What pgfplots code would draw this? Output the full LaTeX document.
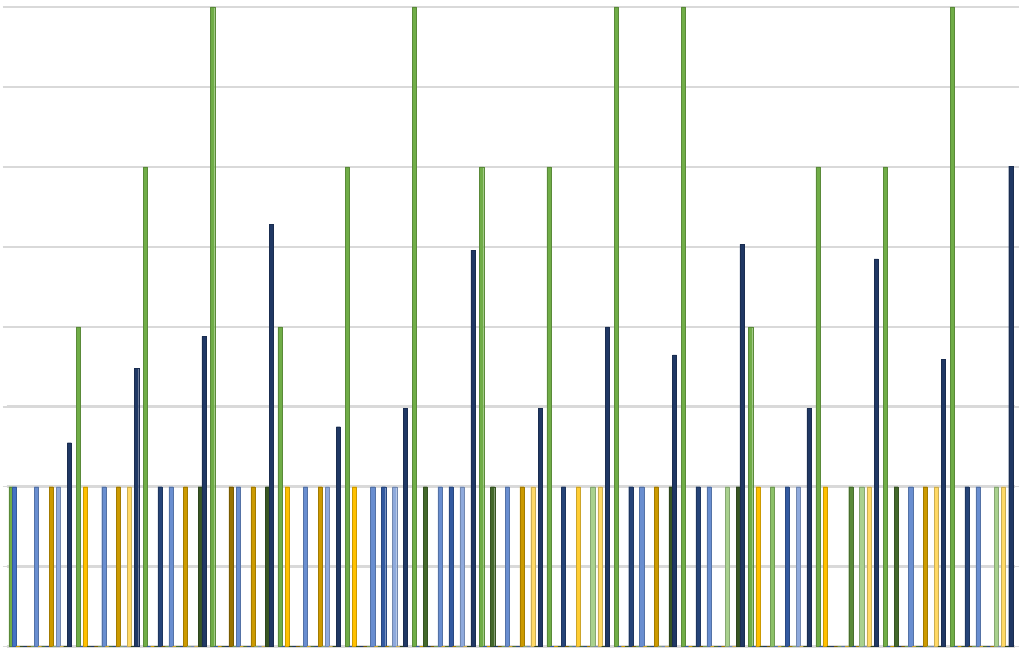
\documentclass[border=0pt]{standalone}
\usepackage{pgfplots}
\usepackage{pgfplotstable}
\pgfplotsset{compat=1.18}

% 17 series, Excel-style palette (accents 6,5,4 and their shades)
\definecolor{c1}{HTML}{70AD47}
\definecolor{c2}{HTML}{4472C4}
\definecolor{c3}{HTML}{FFC000}
\definecolor{c4}{HTML}{43682B}
\definecolor{c5}{HTML}{264478}
\definecolor{c6}{HTML}{997300}
\definecolor{c7}{HTML}{8CC168}
\definecolor{c8}{HTML}{698ED0}
\definecolor{c9}{HTML}{FFCD33}
\definecolor{c10}{HTML}{5A8A39}
\definecolor{c11}{HTML}{335AA0}
\definecolor{c12}{HTML}{CC9A00}
\definecolor{c13}{HTML}{A9D18E}
\definecolor{c14}{HTML}{8FAADC}
\definecolor{c15}{HTML}{FFD966}
\definecolor{c16}{HTML}{385623}
\definecolor{c17}{HTML}{203864}
\definecolor{gridgray}{HTML}{D9D9D9}

\pgfplotstableread{
cat s1 s2 s3 s4 s5 s6 s7 s8 s9 s10 s11 s12 s13 s14 s15 s16 s17
0  2 2 0 0 0 0 0 2 0 0 0 2 0 2 0 0 2.55
1  4 0 2 0 0 0 0 2 0 0 0 2 0 0 2 0 3.48
2  6 0 0 0 2 0 0 2 0 0 0 2 0 0 0 2 3.88
3  8 0 0 0 0 2 0 2 0 0 0 2 0 0 0 2 5.28
4  4 0 2 0 0 0 0 2 0 0 0 2 0 2 0 0 2.75
5  6 0 2 0 0 0 0 2 0 0 2 0 0 2 0 0 2.98
6  8 0 0 2 0 0 0 2 0 0 2 0 0 2 0 0 4.96
7  6 0 0 2 0 0 0 2 0 0 0 2 0 0 2 0 2.98
8  6 0 0 0 2 0 0 0 2 0 0 0 2 0 2 0 4.00
9  8 0 0 0 2 0 0 2 0 0 0 2 0 0 0 2 3.65
10 8 0 0 0 2 0 0 2 0 0 0 0 2 0 0 2 5.03
11 4 0 2 0 0 0 2 0 0 0 2 0 0 2 0 0 2.98
12 6 0 2 0 0 0 0 0 0 2 0 0 2 0 2 0 4.85
13 6 0 0 2 0 0 0 2 0 0 0 2 0 0 2 0 3.59
14 8 0 0 0 2 0 0 2 0 0 0 0 2 0 2 0 6.01
}\datatable

\begin{document}
\begin{tikzpicture}
  \begin{axis}[
      scale only axis,
      width=757pt, height=480pt,
      xmin=-0.5, xmax=14.5,
      ymin=0, ymax=8,
      % bars a bit wider than their pitch (2.74pt), as in the reference
      ybar=-0.36pt, bar width=3.1pt,
      xtick=\empty,
      ytick={0,1,...,8},
      yticklabels={},
      tick align=outside,
      major tick length=3pt,
      ytick style={draw=gridgray, line width=1.2pt},
      ymajorgrids,
      grid style={draw=gridgray, line width=1.9pt},
      axis line style={draw=none},
      clip=false,
    ]
    \pgfplotsinvokeforeach{1,...,17}{
      \addplot[fill=c#1, draw=c#1!80!black, line width=0.25pt]
        table[x=cat, y=s#1] {\datatable};
    }
  \end{axis}
  \pgfresetboundingbox
  \path[use as bounding box]
    ([shift={(-4.9pt,-3.75pt)}]current axis.south west) rectangle
    ([shift={(6.6pt,5.25pt)}]current axis.north east);
\end{tikzpicture}
\end{document}
